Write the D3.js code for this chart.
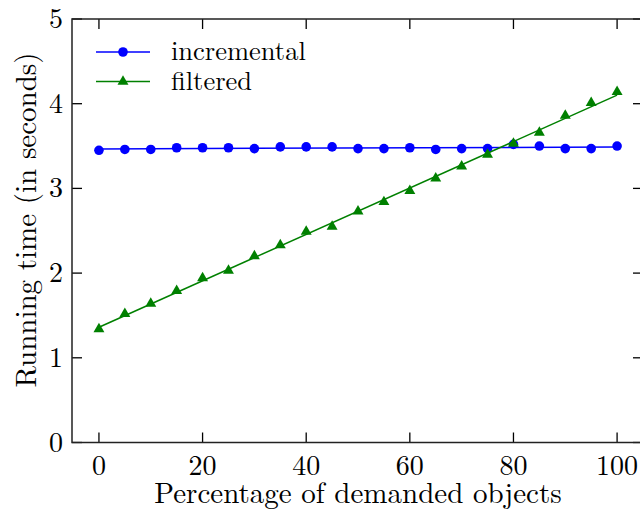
<!DOCTYPE html>
<html lang="en">

<head>
    <meta charset="UTF-8">
    <title>Running time</title>
    <script src="https://d3js.org/d3.v7.min.js"></script>
    <style>
        body { margin: 0; background: #fff; }
    </style>
</head>

<body>
    <script>

        var percents = [0, 5, 10, 15, 20, 25, 30, 35, 40, 45, 50, 55, 60, 65, 70, 75, 80, 85, 90, 95, 100];
        var incremental = [3.45, 3.46, 3.46, 3.48, 3.48, 3.48, 3.47, 3.49, 3.49, 3.49, 3.47,
            3.47, 3.48, 3.46, 3.47, 3.47, 3.52, 3.50, 3.47, 3.47, 3.50];
        var filtered = [1.34, 1.52, 1.64, 1.79, 1.94, 2.03, 2.20, 2.33, 2.49, 2.55, 2.73,
            2.84, 2.97, 3.12, 3.26, 3.40, 3.53, 3.66, 3.86, 4.01, 4.14];
        var xTicks = [0, 20, 40, 60, 80, 100];
        var yTicks = [0, 1, 2, 3, 4, 5];

        var width = 640, height = 514;
        var serif = "Latin Modern Roman, Liberation Serif, serif";

        var svg = d3.select("body")
            .append("svg")
            .attr("width", width)
            .attr("height", height);

        var x = d3.scaleLinear().domain([-5.2, 105]).range([72, 643]);
        var y = d3.scaleLinear().domain([0, 5]).range([442.5, 19]);

        var plotLeft = x.range()[0], plotRight = x.range()[1];
        var plotTop = y.range()[1], plotBottom = y.range()[0];

        function label(sel, size) {
            return sel.style("font-family", serif).style("font-size", size + "px").attr("fill", "#000");
        }

        // inward ticks on all four sides
        var tk = svg.append("g").attr("stroke", "#000").attr("stroke-width", 1.3);
        xTicks.forEach(function (t) {
            tk.append("line").attr("x1", x(t)).attr("x2", x(t)).attr("y1", plotBottom).attr("y2", plotBottom - 10);
            tk.append("line").attr("x1", x(t)).attr("x2", x(t)).attr("y1", plotTop).attr("y2", plotTop + 10);
        });
        yTicks.forEach(function (t) {
            tk.append("line").attr("x1", plotLeft).attr("x2", plotLeft + 10).attr("y1", y(t)).attr("y2", y(t));
            tk.append("line").attr("x1", plotRight).attr("x2", plotRight - 10).attr("y1", y(t)).attr("y2", y(t));
        });

        svg.append("rect")
            .attr("x", plotLeft).attr("y", plotTop)
            .attr("width", plotRight - plotLeft).attr("height", plotBottom - plotTop)
            .attr("fill", "none").attr("stroke", "#222").attr("stroke-width", 1.5);

        label(svg.selectAll(".xl").data(xTicks).enter().append("text"), 28)
            .attr("x", function (d) { return x(d); })
            .attr("y", 475)
            .attr("text-anchor", "middle")
            .text(function (d) { return d; });

        label(svg.selectAll(".yl").data(yTicks).enter().append("text"), 28)
            .attr("x", 63)
            .attr("y", function (d) { return y(d) + 9; })
            .attr("text-anchor", "end")
            .text(function (d) { return d; });

        label(svg.append("text"), 29)
            .attr("x", 358).attr("y", 503)
            .attr("text-anchor", "middle")
            .text("Percentage of demanded objects");

        label(svg.append("text"), 29)
            .attr("transform", "translate(36,220) rotate(-90)")
            .attr("text-anchor", "middle")
            .text("Running time (in seconds)");

        // least squares line through each series
        function fit(xs, ys) {
            var mx = d3.mean(xs), my = d3.mean(ys);
            var num = d3.sum(xs, function (v, i) { return (v - mx) * (ys[i] - my); });
            var den = d3.sum(xs, function (v) { return (v - mx) * (v - mx); });
            var b = num / den;
            return function (v) { return my + b * (v - mx); };
        }

        var triangle = d3.symbol().type(d3.symbolTriangle).size(52);

        function drawSeries(values, color, shape) {
            var f = fit(percents, values);
            var ends = d3.extent(percents);
            svg.append("path")
                .attr("d", d3.line()(ends.map(function (p) { return [x(p), y(f(p))]; })))
                .attr("stroke", color).attr("stroke-width", 1.5).attr("fill", "none");
            var g = svg.append("g").attr("fill", color);
            percents.forEach(function (p, i) {
                if (shape === "circle") {
                    g.append("circle").attr("cx", x(p)).attr("cy", y(values[i])).attr("r", 4.8);
                } else {
                    g.append("path").attr("d", triangle)
                        .attr("transform", "translate(" + x(p) + "," + y(values[i]) + ")");
                }
            });
        }

        drawSeries(incremental, "#0000ff", "circle");
        drawSeries(filtered, "#008000", "triangle");

        // legend
        var legend = [
            { name: "incremental", color: "#0000ff", shape: "circle", y: 52 },
            { name: "filtered", color: "#008000", shape: "triangle", y: 81.5 }
        ];
        legend.forEach(function (d) {
            svg.append("line")
                .attr("x1", 96).attr("x2", 150).attr("y1", d.y).attr("y2", d.y)
                .attr("stroke", d.color).attr("stroke-width", 1.5);
            if (d.shape === "circle") {
                svg.append("circle").attr("cx", 123).attr("cy", d.y).attr("r", 4.8).attr("fill", d.color);
            } else {
                svg.append("path").attr("d", triangle).attr("fill", d.color)
                    .attr("transform", "translate(123," + d.y + ")");
            }
            label(svg.append("text"), 26.5)
                .attr("x", 171).attr("y", d.y + 8)
                .text(d.name);
        });

    </script>
</body>

</html>
